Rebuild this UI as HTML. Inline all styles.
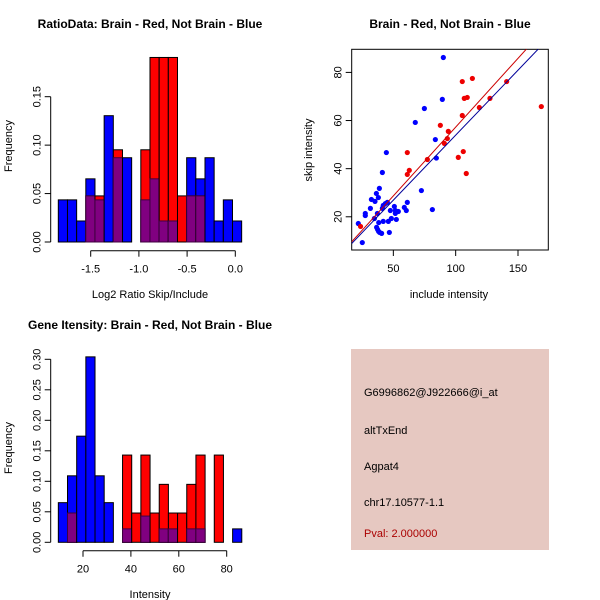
<!DOCTYPE html>
<html><head><meta charset="utf-8"><style>
html,body{margin:0;padding:0;background:#fff}
svg{display:block;font-family:"Liberation Sans",Arial,sans-serif}
</style></head><body>
<svg id="c" width="600" height="600" viewBox="0 0 600 600">
<rect width="600" height="600" fill="#fff"/>
<text x="150" y="28" text-anchor="middle" font-size="12" font-weight="bold">RatioData: Brain - Red, Not Brain - Blue</text>
<text x="450" y="28" text-anchor="middle" font-size="12" font-weight="bold">Brain - Red, Not Brain - Blue</text>
<text x="150" y="329" text-anchor="middle" font-size="12" font-weight="bold">Gene Itensity: Brain - Red, Not Brain - Blue</text>
<text x="150" y="298" text-anchor="middle" font-size="11">Log2 Ratio Skip/Include</text>
<text x="150" y="598" text-anchor="middle" font-size="11">Intensity</text>
<text x="449" y="298" text-anchor="middle" font-size="11">include intensity</text>
<text transform="translate(12,146) rotate(-90)" text-anchor="middle" font-size="11">Frequency</text>
<text transform="translate(12,448) rotate(-90)" text-anchor="middle" font-size="11">Frequency</text>
<text transform="translate(312,150) rotate(-90)" text-anchor="middle" font-size="11">skip intensity</text>
<g>
<rect x="351" y="349" width="198" height="201" fill="#e6c8c1"/>
<text x="364" y="396" font-size="11">G6996862@J922666@i_at</text>
<text x="364" y="434" font-size="11">altTxEnd</text>
<text x="364" y="470" font-size="11">Agpat4</text>
<text x="364" y="506" font-size="11">chr17.10577-1.1</text>
<text x="364" y="537" font-size="11" fill="#aa0000">Pval: 2.000000</text>
</g>
</svg>
<script>
// ---- Ratio histogram data ----
const ratioBinStart = -1.836;
const ratioBinWidth = 0.0951;
const ratioBlue = [0.0435,0.0435,0.0217,0.0652,0.0435,0.1304,0.087,0.087,0,0.0435,0.0652,0.0217,0.0217,0,0.087,0.0652,0.087,0.0217,0.0435,0.0217];
const ratioRed  = [0,0,0,0.0476,0.0476,0,0.0952,0,0,0.0952,0.1905,0.1905,0.1905,0.0476,0.0476,0.0476,0,0,0,0];
const ratioXTicks = [-1.5,-1.0,-0.5,0.0];
const ratioXTickLabels = ["-1.5","-1.0","-0.5","0.0"];
const ratioYTicks = [0,0.05,0.10,0.15];
const ratioYTickLabels = ["0.00","0.05","0.10","0.15"];
// ---- Intensity histogram data ----
const intBinStart = 9.7;
const intBinWidth = 3.83;
const intBlue = [0.065,0.109,0.174,0.304,0.109,0.065,0,0.022,0,0.043,0,0.022,0.022,0,0.022,0.022,0,0,0,0.022];
const intRed  = [0,0.048,0,0,0,0,0,0.143,0.048,0.143,0.048,0.095,0.048,0.048,0.095,0.143,0,0.143,0,0];
const intXTicks = [20,40,60,80];
const intXTickLabels = ["20","40","60","80"];
const intYTicks = [0,0.05,0.10,0.15,0.20,0.25,0.30];
const intYTickLabels = ["0.00","0.05","0.10","0.15","0.20","0.25","0.30"];
// ---- Scatter data ----
const blueX = [90.1,89.3,74.9,67.6,44.4,83.7,84.5,41.2,72.5,81.3,38.8,36.4,32.4,35.3,38,31.6,27.5,27.5,21.9,37.2,34.8,38.3,36.6,37.4,39,40.6,38.2,25.1,41.9,41.9,43.6,45.2,41.2,46,46.8,47.6,48.4,50.8,51.6,51.6,54,52.4,58.8,60.4,61.2];
const blueY = [86.2,68.8,65,59.2,46.7,52.1,44.4,38.4,30.9,23,31.8,29.7,27.2,26.4,28,23.5,21.4,20.5,17.2,21.4,19.3,17.6,15.6,14.7,13.5,13.1,13.9,9.3,18.1,24.7,25.5,26,23.5,18.1,13.5,22.6,19.3,24.3,22.6,21.4,22.2,18.9,23.9,22.6,26];
const redX = [105.3,113.4,106.9,109.3,105.3,140.9,127.5,119,168.7,87.7,94.1,93.3,90.9,106.1,102.1,108.5,61.2,77.3,62.8,61.2,23.7];
const redY = [76.2,77.5,69.2,69.6,62.1,76.2,69.2,65.4,65.8,58,55.5,52.5,50.5,47.1,44.7,38,46.7,43.8,39.3,37.6,16];
const fitRed = [0.11,0.5715];   // intercept, slope
const fitBlue = [-0.07,0.540];
const scXTicks = [50,100,150];
const scXTickLabels = ["50","100","150"];
const scYTicks = [20,40,60,80];
const scYTickLabels = ["20","40","60","80"];

const svg = document.getElementById('c');
const NS = 'http://www.w3.org/2000/svg';
function mk(tag, attrs){const e=document.createElementNS(NS,tag);for(const k in attrs)e.setAttribute(k,attrs[k]);svg.appendChild(e);return e;}

function hist(opt){
  const sx=v=>opt.x0px+(v-opt.x0)*opt.xs, sy=v=>opt.y0px-v*opt.ys;
  const n=opt.blue.length;
  for(let i=0;i<n;i++){
    const a=opt.start+i*opt.w, xa=sx(a), xb=sx(a+opt.w);
    const b=opt.blue[i], r=opt.red[i], m=Math.min(b,r);
    if(b>0){const e=mk('rect',{x:xa,y:sy(b),width:xb-xa,height:sy(0)-sy(b),fill:'#0000ff',stroke:'#000','stroke-width':1});
      
      }
    if(r>0){const e=mk('rect',{x:xa,y:sy(r),width:xb-xa,height:sy(0)-sy(r),fill:'#ff0000',stroke:'#000','stroke-width':1});
      
      }
    if(m>0){const e=mk('rect',{x:xa,y:sy(m),width:xb-xa,height:sy(0)-sy(m),fill:'#800080',stroke:'#400040','stroke-width':1});
      
      }
  }
  // y axis
  const yt=opt.yt;
  const ya=mk('line',{x1:opt.yAxisX,x2:opt.yAxisX,y1:sy(yt[0]),y2:sy(yt[yt.length-1]),stroke:'#000'});
  
  
  yt.forEach((v,i)=>{
    mk('line',{x1:opt.yAxisX-6,x2:opt.yAxisX,y1:sy(v),y2:sy(v),stroke:'#000'});
    const t=mk('text',{transform:`translate(${opt.yAxisX-10},${sy(v)}) rotate(-90)`,'text-anchor':'middle','font-size':11});
    t.textContent=opt.ytl[i];
    
    
  });
  const xt=opt.xt;
  const xa=mk('line',{x1:sx(xt[0]),x2:sx(xt[xt.length-1]),y1:opt.xAxisY,y2:opt.xAxisY,stroke:'#000'});
  
  
  xt.forEach((v,i)=>{
    mk('line',{x1:sx(v),x2:sx(v),y1:opt.xAxisY,y2:opt.xAxisY+6,stroke:'#000'});
    const t=mk('text',{x:sx(v),y:opt.xAxisY+22,'text-anchor':'middle','font-size':11});
    t.textContent=opt.xtl[i];
    
    
  });
}
hist({name:'ratio',blue:ratioBlue,red:ratioRed,start:ratioBinStart,w:ratioBinWidth,
  x0:-1.5,x0px:90.7,xs:96.4,y0px:242,ys:968.7,yAxisX:50.7,xAxisY:250.7,
  xt:ratioXTicks,xtl:ratioXTickLabels,yt:ratioYTicks,ytl:ratioYTickLabels});
hist({name:'intensity',blue:intBlue,red:intRed,start:intBinStart,w:intBinWidth,
  x0:20,x0px:83,xs:2.395,y0px:542.3,ys:610,yAxisX:50.7,xAxisY:550.7,
  xt:intXTicks,xtl:intXTickLabels,yt:intYTicks,ytl:intYTickLabels});

// scatter
const L=351.7,R=548.3,T=49.3,B=250;
const xmin=16.6,xmax=174.3,ymin=6.2,ymax=89.6;
const X=v=>L+(v-xmin)/(xmax-xmin)*(R-L);
const Y=v=>B-(v-ymin)/(ymax-ymin)*(B-T);
const clip=mk('clipPath',{id:'sc'});
const cr=document.createElementNS(NS,'rect');
cr.setAttribute('x',L);cr.setAttribute('y',T);cr.setAttribute('width',R-L);cr.setAttribute('height',B-T);
clip.appendChild(cr);
const box=mk('rect',{x:L,y:T,width:R-L,height:B-T,fill:'none',stroke:'#000'});


blueX.forEach((v,i)=>{
  const c=mk('circle',{cx:X(v),cy:Y(blueY[i]),r:2.6,fill:'#0000ff'});
  
  
});
redX.forEach((v,i)=>{
  const c=mk('circle',{cx:X(v),cy:Y(redY[i]),r:2.6,fill:'#ee0000'});
  
  
});
[[fitRed,'#cc0000','brain-fit-line'],[fitBlue,'#000099','not-brain-fit-line']].forEach(([f,col,nm])=>{
  const l=mk('line',{x1:X(xmin),y1:Y(f[0]+f[1]*xmin),x2:X(xmax),y2:Y(f[0]+f[1]*xmax),stroke:col,'stroke-width':1,'clip-path':'url(#sc)'});
  
  
});
scXTicks.forEach((v,i)=>{
  mk('line',{x1:X(v),x2:X(v),y1:B,y2:B+6,stroke:'#000'});
  const t=mk('text',{x:X(v),y:B+22,'text-anchor':'middle','font-size':11});
  t.textContent=scXTickLabels[i];
  
  
});
scYTicks.forEach((v,i)=>{
  mk('line',{x1:L-6,x2:L,y1:Y(v),y2:Y(v),stroke:'#000'});
  const t=mk('text',{transform:`translate(${L-10},${Y(v)}) rotate(-90)`,'text-anchor':'middle','font-size':11});
  t.textContent=scYTickLabels[i];
  
  
});
</script>
</body></html>
